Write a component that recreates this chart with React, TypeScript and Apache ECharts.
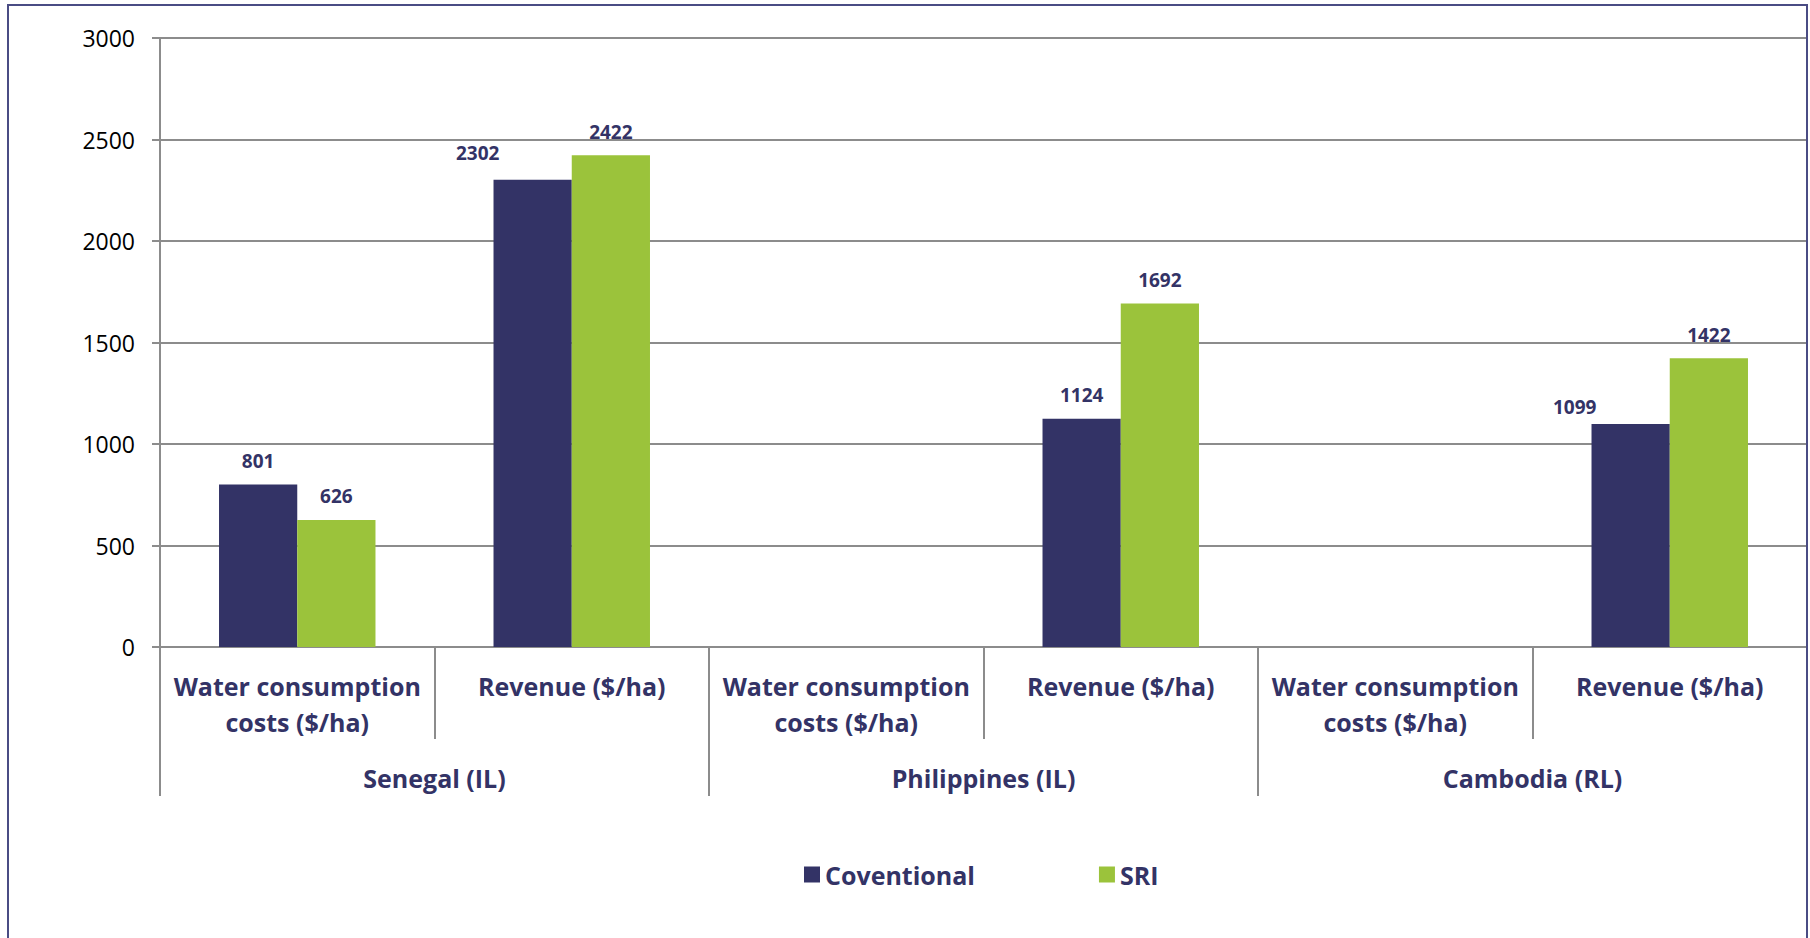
import React, { useEffect, useRef } from "react";
import * as echarts from "echarts";

const categories = [
  "Water consumption\ncosts ($/ha)",
  "Revenue ($/ha)",
  "Water consumption\ncosts ($/ha)",
  "Revenue ($/ha)",
  "Water consumption\ncosts ($/ha)",
  "Revenue ($/ha)",
];
const groups = ["Senegal (IL)", "Philippines (IL)", "Cambodia (RL)"];
const conventional: (number | null)[] = [801, 2302, null, 1124, null, 1099];
const sri: (number | null)[] = [626, 2422, null, 1692, null, 1422];
const seriesNames = ["Coventional", "SRI"];
const yTicks = { min: 0, max: 3000, interval: 500 };

const NAVY = "#333366";
const GREEN = "#9bc33b";
const GRIDC = "#8c8c8c";
const FONT = "'Open Sans', 'Noto Sans', sans-serif";

const convOffsets: Record<number, number[]> = { 1: [-55, -3], 5: [-56, 7] };

export default function App() {
  const ref = useRef<HTMLDivElement>(null);
  useEffect(() => {
    if (!ref.current) return;
    const chart = echarts.init(ref.current, undefined, { renderer: "svg" });
    const labelBase = {
      show: true,
      position: "top",
      distance: 14,
      color: NAVY,
      fontWeight: "bold",
      fontSize: 19,
      fontFamily: FONT,
    };
    chart.setOption({
      animation: false,
      backgroundColor: "#ffffff",
      textStyle: { fontFamily: FONT },
      grid: { left: 160, right: 3, top: 38, bottom: 291, containLabel: false },
      legend: {
        data: seriesNames,
        left: 799,
        top: 857,
        itemWidth: 16,
        itemHeight: 16,
        itemGap: 124,
        icon: "rect",
        textStyle: { color: NAVY, fontWeight: "bold", fontSize: 25, fontFamily: FONT },
      },
      xAxis: [
        {
          type: "category",
          data: categories,
          gridIndex: 0,
          position: "bottom",
          axisLine: { show: true, lineStyle: { color: GRIDC, width: 2 } },
          axisTick: { show: true, length: 92, alignWithLabel: false, lineStyle: { color: GRIDC, width: 2 } },
          axisLabel: {
            interval: 0,
            margin: 21,
            color: NAVY,
            fontWeight: "bold",
            fontSize: 25,
            lineHeight: 36,
            fontFamily: FONT,
            align: "center",
            verticalAlign: "top",
          },
        },
        {
          type: "category",
          data: groups,
          gridIndex: 0,
          position: "bottom",
          axisLine: { show: false },
          axisTick: { show: true, length: 149, alignWithLabel: false, lineStyle: { color: GRIDC, width: 2 } },
          axisLabel: {
            interval: 0,
            margin: 113,
            color: NAVY,
            fontWeight: "bold",
            fontSize: 25,
            lineHeight: 36,
            fontFamily: FONT,
            verticalAlign: "top",
          },
        },
      ],
      yAxis: {
        type: "value",
        min: yTicks.min,
        max: yTicks.max,
        interval: yTicks.interval,
        axisLine: { show: true, lineStyle: { color: GRIDC, width: 2 } },
        axisTick: { show: true, length: 8, lineStyle: { color: GRIDC, width: 2 } },
        axisLabel: {
          color: "#000000",
          fontSize: 23,
          margin: 25,
          fontFamily: FONT,
          formatter: (v: number) => String(v),
        },
        splitLine: { show: true, lineStyle: { color: GRIDC, width: 2 } },
      },
      series: [
        {
          name: seriesNames[0],
          type: "bar",
          xAxisIndex: 0,
          barGap: "0%",
          barCategoryGap: "43%",
          itemStyle: { color: NAVY },
          label: labelBase,
          data: conventional.map((v, i) =>
            convOffsets[i] ? { value: v, label: { offset: convOffsets[i] } } : v
          ),
        },
        {
          name: seriesNames[1],
          type: "bar",
          xAxisIndex: 0,
          barGap: "0%",
          barCategoryGap: "43%",
          itemStyle: { color: GREEN },
          label: labelBase,
          data: sri,
        },
      ],
      graphic: [
        {
          type: "rect",
          silent: true,
          z: 100,
          shape: { x: 8, y: 5, width: 1799, height: 1000 },
          style: { fill: "none", stroke: "#4a4c84", lineWidth: 2 },
        },
      ],
    });
    return () => chart.dispose();
  }, []);
  return (
    <div
      ref={ref}
      style={{ position: "fixed", left: 0, top: 0, width: 1810, height: 938, background: "#fff" }}
    />
  );
}
